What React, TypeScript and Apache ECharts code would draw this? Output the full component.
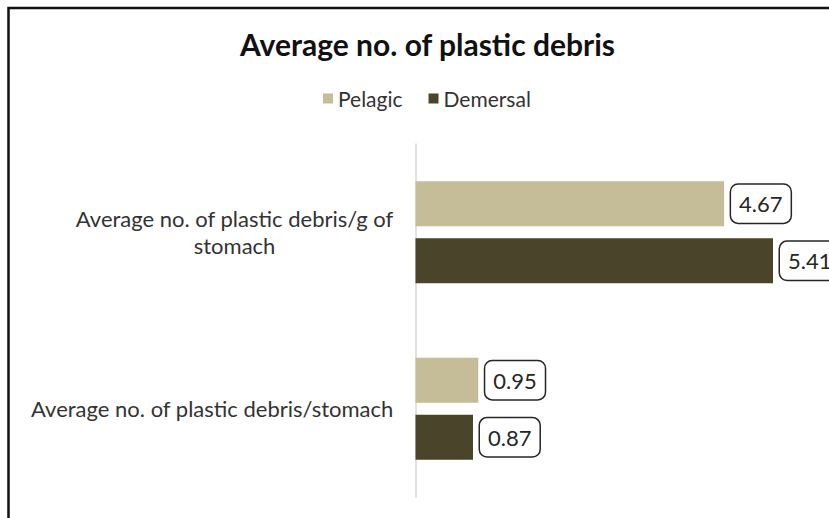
import React, { useEffect, useRef } from "react";
import * as echarts from "echarts";

const categories = [
  "Average no. of plastic debris/g of\nstomach",
  "Average no. of plastic debris/stomach",
];
const seriesNames = ["Pelagic", "Demersal"];
const pelagicValues = [4.67, 0.95];
const demersalValues = [5.41, 0.87];
const titleText = "Average no. of plastic debris";

const FONT = "Lato";

export default function App() {
  const ref = useRef<HTMLDivElement>(null);
  useEffect(() => {
    document.body.style.margin = "0";
    if (!ref.current) return;
    const chart = echarts.init(ref.current, undefined, { renderer: "svg" });
    const labelStyle = {
      show: true,
      position: "right" as const,
      distance: 7,
      fontFamily: FONT,
      fontSize: 22,
      lineHeight: 26,
      color: "#262626",
      backgroundColor: "#ffffff",
      borderColor: "#262626",
      borderWidth: 1.5,
      borderRadius: 7,
      padding: [6, 8],
      formatter: (p: any) => Number(p.value).toFixed(2),
    };
    chart.setOption({
      animation: false,
      backgroundColor: "#ffffff",
      title: {
        text: titleText,
        left: 235,
        top: 24,
        textStyle: { fontFamily: FONT, fontSize: 30, fontWeight: "bold", color: "#111" },
      },
      legend: {
        data: seriesNames,
        left: 318,
        top: 83,
        icon: "rect",
        itemWidth: 10,
        itemHeight: 10,
        itemGap: 26,
        textStyle: { fontFamily: FONT, fontSize: 21, color: "#333" },
      },
      graphic: [
        {
          type: "rect",
          shape: { x: 8.5, y: 8, width: 900, height: 600 },
          style: { fill: "none", stroke: "#111", lineWidth: 2.5 },
          silent: true,
        },
      ],
      grid: { left: 415.5, right: 17, top: 144, bottom: 21, containLabel: false },
      xAxis: {
        type: "value",
        min: 0,
        max: 6,
        show: false,
        splitLine: { show: false },
      },
      yAxis: {
        type: "category",
        inverse: true,
        data: categories,
        axisTick: { show: false },
        axisLine: { show: true, lineStyle: { color: "#d9d9d9", width: 1.5 } },
        axisLabel: {
          margin: 22,
          formatter: (v: string) =>
            v.split("\n").map((l) => `{c|${l}}`).join("\n"),
          rich: {
            c: {
              align: "center",
              fontFamily: FONT,
              fontSize: 22,
              lineHeight: 27,
              color: "#333",
            },
          },
        },
      },
      series: [
        {
          name: seriesNames[0],
          type: "bar",
          data: pelagicValues,
          barWidth: 45,
          barGap: "27%",
          itemStyle: { color: "#c4bd97" },
          label: labelStyle,
        },
        {
          name: seriesNames[1],
          type: "bar",
          data: demersalValues,
          barWidth: 45,
          barGap: "27%",
          itemStyle: { color: "#4a452a" },
          label: labelStyle,
        },
      ],
    });
    return () => chart.dispose();
  }, []);
  return <div ref={ref} style={{ width: 829, height: 518 }} />;
}
